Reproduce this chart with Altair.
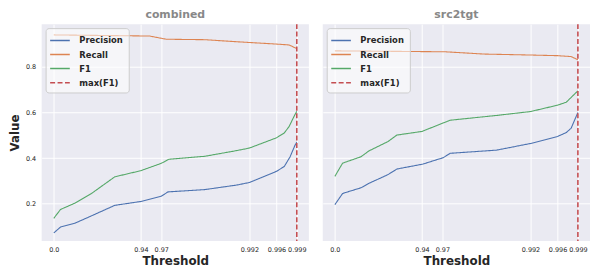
import altair as alt
import pandas as pd

# x positions are the rank-based threshold positions (0 .. 251); tick labels map to thresholds
tick_pos = [0, 90, 111, 202, 230, 251]
tick_lab = ["0.0", "0.94", "0.97", "0.992", "0.996", "0.999"]

series_names = ["Precision", "Recall", "F1", "max(F1)"]
series_colors = ["#4C72B0", "#DD8452", "#55A868", "#C44E52"]

# combined
c_prec_x = [0, 7, 22, 39, 63, 90, 111, 118, 156, 189, 202, 230, 238, 244, 249, 251]
c_prec_y = [0.072, 0.098, 0.115, 0.147, 0.193, 0.21, 0.233, 0.252, 0.262, 0.282, 0.293, 0.342, 0.363, 0.405, 0.455, 0.47]
c_rec_x = [0, 99, 116, 156, 189, 229, 243, 251]
c_rec_y = [0.94, 0.935, 0.921, 0.919, 0.91, 0.9, 0.896, 0.88]
c_f1_x = [0, 7, 22, 39, 63, 90, 111, 119, 156, 189, 202, 230, 238, 243, 249, 251]
c_f1_y = [0.136, 0.175, 0.203, 0.245, 0.318, 0.345, 0.377, 0.395, 0.408, 0.433, 0.444, 0.489, 0.51, 0.538, 0.59, 0.605]

# src2tgt
s_prec_x = [0, 8, 27, 35, 55, 64, 91, 112, 119, 167, 202, 230, 239, 244, 251]
s_prec_y = [0.196, 0.245, 0.27, 0.289, 0.328, 0.352, 0.374, 0.402, 0.421, 0.435, 0.464, 0.495, 0.512, 0.531, 0.6]
s_rec_x = [0, 114, 154, 200, 230, 244, 251]
s_rec_y = [0.87, 0.866, 0.856, 0.852, 0.849, 0.845, 0.831]
s_f1_x = [0, 8, 27, 35, 55, 64, 90, 119, 167, 202, 230, 239, 251]
s_f1_y = [0.32, 0.378, 0.406, 0.431, 0.473, 0.501, 0.517, 0.566, 0.587, 0.604, 0.632, 0.645, 0.695]


def make_df(px, py, rx, ry, fx, fy):
    rows = []
    for name, xs, ys in (("Precision", px, py), ("Recall", rx, ry), ("F1", fx, fy)):
        for x, y in zip(xs, ys):
            rows.append({"pos": x, "value": y, "series": name})
    return pd.DataFrame(rows)


label_expr = "{" + ",".join(f"'{p}':'{l}'" for p, l in zip(tick_pos, tick_lab)) + "}[datum.value]"

color_scale = alt.Scale(domain=series_names, range=series_colors)
dash_scale = alt.Scale(domain=series_names, range=[[1, 0], [1, 0], [1, 0], [5, 2.5]])

W, H = 270, 219


def panel(title, df, fx, fy, show_y, show_legend):
    imax = max(range(len(fy)), key=lambda i: fy[i])
    rule_df = pd.DataFrame({"pos": [fx[imax]], "series": ["max(F1)"]})
    xenc = alt.X("pos:Q", title="Threshold",
                 scale=alt.Scale(domain=[-12.5, 263.5], nice=False, zero=False),
                 axis=alt.Axis(values=tick_pos, labelExpr=label_expr))
    if show_y:
        yaxis = alt.Axis(values=[0.2, 0.4, 0.6, 0.8], format=".1f")
    else:
        yaxis = alt.Axis(values=[0.2, 0.4, 0.6, 0.8], labels=False, title=None)
    yenc = alt.Y("value:Q", title="Value",
                 scale=alt.Scale(domain=[0.037, 0.987], nice=False, zero=False),
                 axis=yaxis)
    legend = alt.Legend(title=None, orient="top-left", symbolType="M-1.5,0H1.5",
                        symbolSize=175, symbolStrokeWidth=1.5,
                        symbolFillColor="transparent") if show_legend else None
    cenc = alt.Color("series:N", scale=color_scale, legend=legend)
    denc = alt.StrokeDash("series:N", scale=dash_scale, legend=legend)
    lines = alt.Chart(df).mark_line(strokeWidth=1.1).encode(
        x=xenc, y=yenc, color=cenc, strokeDash=denc, order="pos:Q")
    rule = alt.Chart(rule_df).mark_rule(strokeWidth=1.6).encode(
        x="pos:Q", color=alt.Color("series:N", scale=color_scale, legend=legend),
        strokeDash=alt.StrokeDash("series:N", scale=dash_scale, legend=legend))
    return alt.layer(lines, rule).properties(
        width=W, height=H,
        title=alt.TitleParams(title, color="#888888", fontSize=11, fontWeight="bold",
                              font="DejaVu Sans", offset=3))


left = panel("combined", make_df(c_prec_x, c_prec_y, c_rec_x, c_rec_y, c_f1_x, c_f1_y),
             c_f1_x, c_f1_y, True, True)
right = panel("src2tgt", make_df(s_prec_x, s_prec_y, s_rec_x, s_rec_y, s_f1_x, s_f1_y),
              s_f1_x, s_f1_y, False, True)

chart = alt.hconcat(left, right, spacing=14).resolve_scale(
    color="independent", strokeDash="independent"
).configure(
    padding={"left": 0, "right": 0, "top": 0, "bottom": 0}
).configure_view(
    fill="#EAEAF2", stroke=None
).configure_axis(
    domain=False, ticks=False, grid=True, gridColor="white", gridWidth=1,
    labelFont="DejaVu Sans", labelFontSize=6.5, labelColor="#262626",
    titleFont="DejaVu Sans", titleFontSize=12, titleFontWeight="bold", titleColor="#262626",
).configure_axisX(
    labelPadding=6, titlePadding=2, labelAngle=0
).configure_axisY(
    labelPadding=6, titlePadding=4
).configure_legend(
    labelFont="DejaVu Sans", labelFontSize=8.5, labelFontWeight="bold", labelColor="#262626",
    fillColor="rgba(255,255,255,0.55)", strokeColor="#cccccc", cornerRadius=3,
    padding=5, rowPadding=2.2, offset=4, symbolOffset=2, labelOffset=12
)

chart.save("out.html", embed_options={"renderer": "svg", "actions": False})
